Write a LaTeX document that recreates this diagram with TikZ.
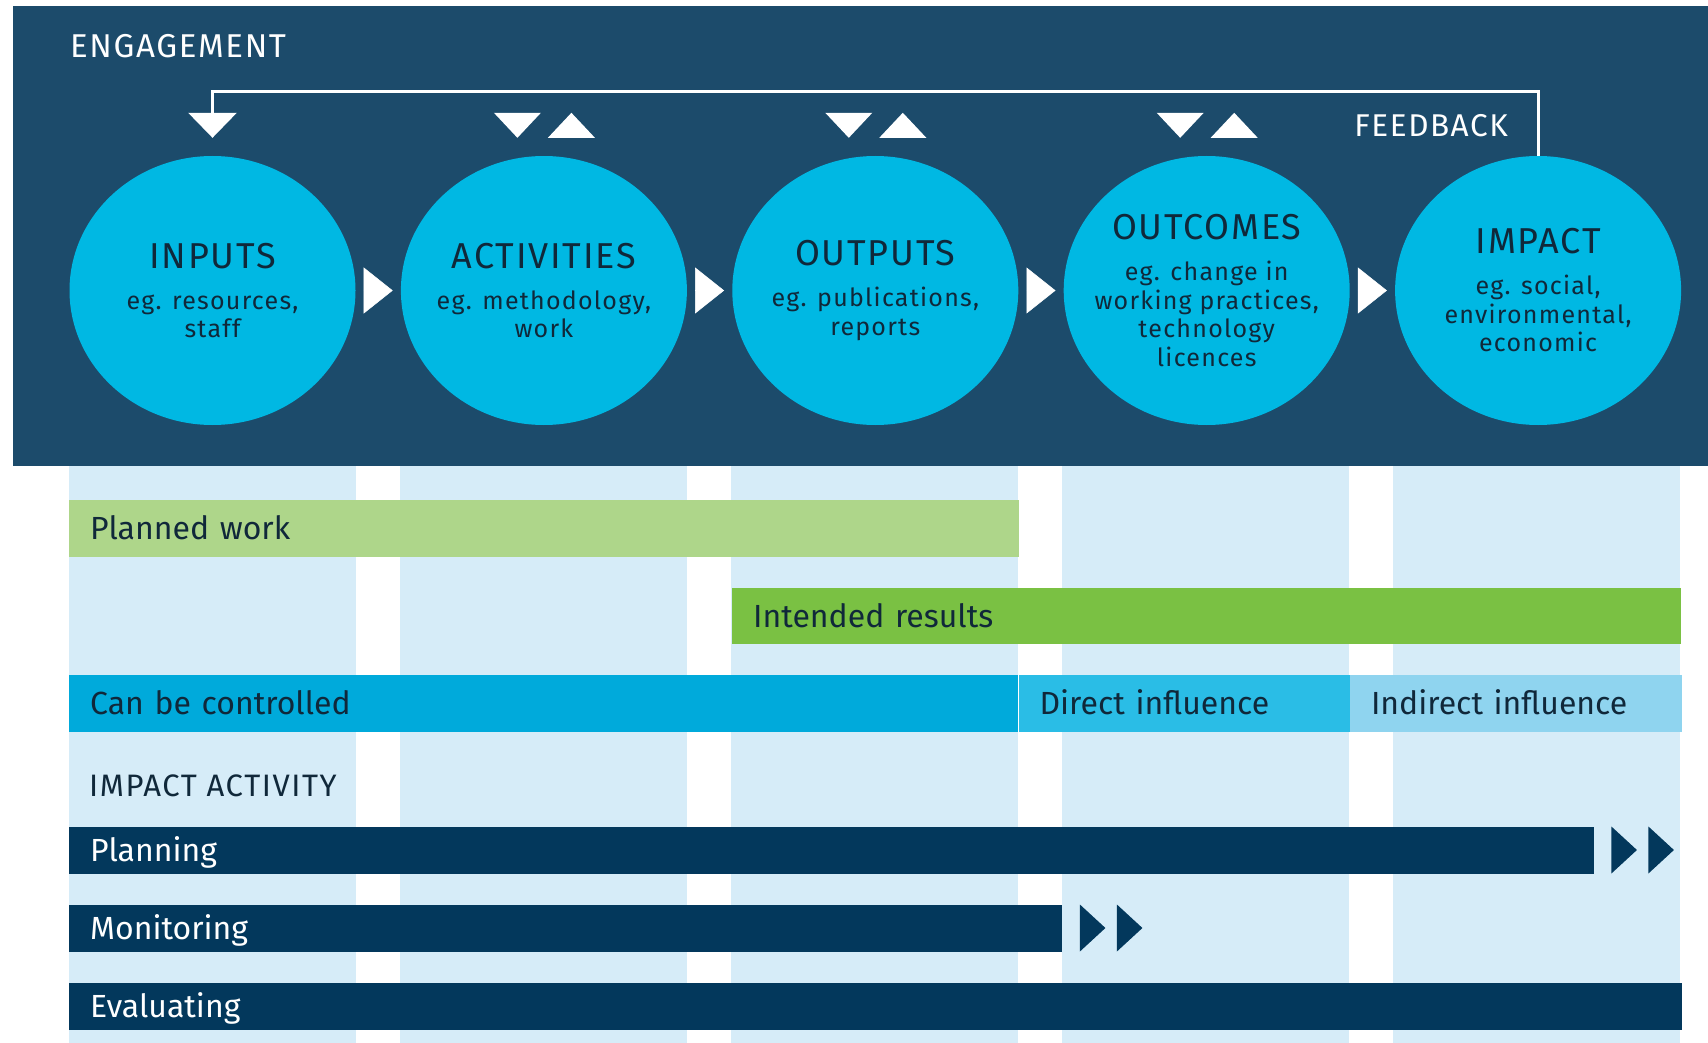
\documentclass[tikz,border=0pt]{standalone}
\usepackage{fontspec}
\setmainfont{Fira Sans}
\newfontfamily\trackfont[LetterSpace=5]{Fira Sans}
\newfontfamily\barfont{Fira Sans}
\usetikzlibrary{arrows.meta, calc, positioning, shapes.geometric}

\definecolor{panel}{HTML}{1C4B6B}
\definecolor{phaseblue}{HTML}{00B8E3}
\definecolor{column}{HTML}{D6ECF8}
\definecolor{planned}{HTML}{AED68A}
\definecolor{intended}{HTML}{7AC143}
\definecolor{control}{HTML}{00AADB}
\definecolor{direct}{HTML}{2ABDE6}
\definecolor{indirect}{HTML}{8FD4EF}
\definecolor{navy}{HTML}{03385C}
\definecolor{ink}{HTML}{10283A}

\newcommand{\phasetitle}[1]{{\fontsize{36}{42}\selectfont #1}}

\begin{document}
\begin{tikzpicture}[x=1pt, y=1pt,
    node distance=45pt,
    phase/.style={ellipse, fill=phaseblue, minimum width=286pt, minimum height=269pt, inner sep=0pt},
    phasetxt/.style={align=center, text=ink, inner sep=0pt, font=\trackfont\fontsize{25}{28.5}\selectfont},
    flow/.style={-{Triangle[length=29pt, width=46pt]}, white, line width=0.5pt, shorten <=8pt, shorten >=8pt},
    feedback/.style={-{Triangle[length=25pt, width=48pt]}, white, line width=3pt, shorten >=18pt},
    heading/.style={white, inner sep=0pt, font=\trackfont\fontsize{31.5}{38}\selectfont},
    bar/.style={rectangle, minimum height=56.5pt, inner xsep=21pt, inner ysep=0pt, text height=22.5pt, text depth=0pt, align=left, text=ink, font=\barfont\fontsize{32}{40}\selectfont},
    actbar/.style={bar, fill=navy, text=white, minimum height=47pt}
]
\useasboundingbox (0,0) rectangle (1708,-1043);

% 背景
\fill[white] (0,0) rectangle (1708,-1043);
\foreach \i in {0,...,4}
    \fill[column] ({69+331*\i},-466) rectangle ({356+331*\i},-1043);
\fill[panel] (13,-6) rectangle (1708,-466);

% 円
\node[phase] (inputs) at (212.5,-290.5) {};
\node[phase, right=of inputs] (activities) {};
\node[phase, right=of activities] (outputs) {};
\node[phase, right=of outputs] (outcomes) {};
\node[phase, right=of outcomes] (impact) {};

\node[phasetxt] (inputs-t) at (inputs) {\phasetitle{INPUTS}\\[12.5pt]eg. resources,\\staff};
\node[phasetxt] (activities-t) at (activities) {\phasetitle{ACTIVITIES}\\[12.5pt]eg. methodology,\\work};
\node[phasetxt] (outputs-t) at (outputs) {\phasetitle{OUTPUTS}\\[12.5pt]eg. publications,\\reports};
\node[phasetxt] (outcomes-t) at (outcomes) {\phasetitle{OUTCOMES}\\[12.5pt]eg. change in\\working practices,\\technology\\licences};
\node[phasetxt] (impact-t) at (impact) {\phasetitle{IMPACT}\\[12.5pt]eg. social,\\environmental,\\economic};

% 矢印
\draw[flow] (inputs) -- (activities);
\draw[flow] (activities) -- (outputs);
\draw[flow] (outputs) -- (outcomes);
\draw[flow] (outcomes) -- (impact);
\draw[feedback] (impact.north) -- ++(0,64) -| (inputs.north);

\foreach \c in {activities,outputs,outcomes} {
    \fill[white] ($(\c.north)+(-50,43)$) -- ++(47,0) -- ++(-23.5,-25) -- cycle;
    \fill[white] ($(\c.north)+(4,18)$) -- ++(47,0) -- ++(-23.5,25) -- cycle;
}

\node[heading, anchor=base west, font=\trackfont\fontsize{33}{38}\selectfont] (engagement) at (70,-58) {ENGAGEMENT};
\node[heading, anchor=base east] (fbtext) at (1508,-137) {FEEDBACK};

% 帯
\node[bar, fill=planned, anchor=north west, text width=907.5pt] (planned) at (69,-500) {Planned work};
\node[bar, fill=intended, anchor=north west, text width=907pt] (intended) at (732,-587.5) {Intended results};
\node[bar, fill=control, anchor=north west, text width=907pt] (control) at (69,-675) {Can be controlled};
\node[bar, fill=direct, right=0pt of control, text width=289pt] (direct) {Direct influence};
\node[bar, fill=indirect, right=0pt of direct, text width=290pt] (indirect) {Indirect influence};

\node[anchor=base west, inner sep=0pt, text=ink, font=\trackfont\fontsize{31}{36}\selectfont] (impactact) at (89,-796) {IMPACT ACTIVITY};

\node[actbar, anchor=north west, text width=1482.5pt] (planning) at (69,-826.5) {Planning};
\node[actbar, anchor=north west, text width=951pt] (monitoring) at (69,-904.5) {Monitoring};
\node[actbar, anchor=north west, text width=1571pt] (evaluating) at (69,-983) {Evaluating};

\foreach \b in {planning,monitoring}
    \foreach \dx in {17.5,54.5}
        \fill[navy] ($(\b.north east)+(\dx,0)$) -- ++(25.5,-23.5) -- ++(-25.5,-23.5) -- cycle;

\end{tikzpicture}
\end{document}
